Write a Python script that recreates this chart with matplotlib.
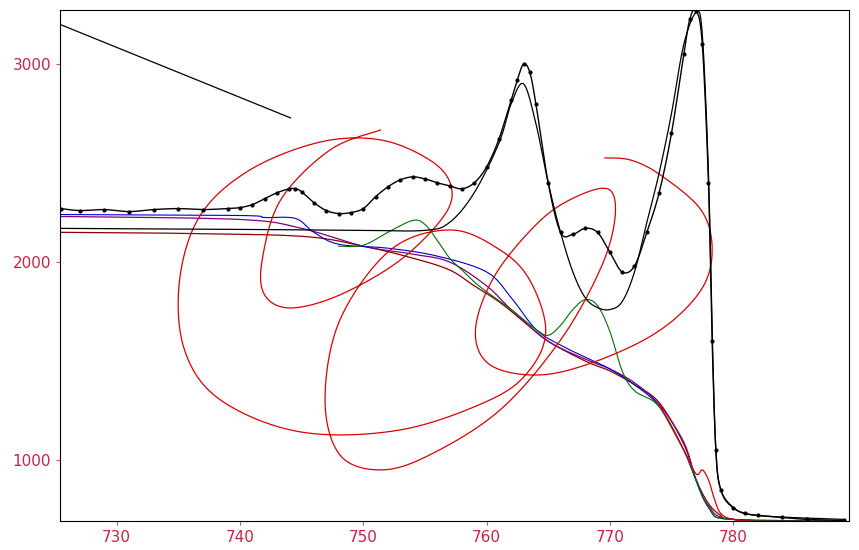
import matplotlib
matplotlib.use("Agg")
import matplotlib.pyplot as plt
import numpy as np

# measured spectrum
spec_x = [725.5,727,729,731,733,735,737,739,740,741,742,743,744,744.5,745,746,747,748,749,750,751,752,753,754,755,756,757,758,759,760,761,762,762.5,763,763.5,764,765,766,767,768,769,770,771,772,773,774,775,776,776.5,777,777.5,778,778.3,778.6,779,780,781,782,784,786,789]
spec_y = [2270,2260,2265,2255,2265,2270,2265,2270,2275,2290,2320,2350,2370,2370,2355,2300,2260,2245,2250,2270,2330,2380,2415,2430,2420,2400,2385,2370,2400,2480,2620,2820,2920,3000,2960,2800,2400,2150,2140,2170,2150,2050,1950,1980,2150,2350,2650,3050,3230,3270,3100,2400,1600,1050,850,760,730,720,710,700,695]

# fit envelope
env_x = [725.5,740,750,755,757,759,761,762,763,764,765,766,767,768,769,770,771,772,773,774,775,776,777,777.5,778,778.3,778.6,779,780,782,789]
env_y = [2170,2165,2160,2160,2200,2350,2600,2800,2900,2700,2400,2150,1950,1820,1770,1760,1800,1950,2200,2450,2750,3100,3260,3150,2450,1650,1050,850,760,720,700]

blue_x = [725.5,740,742,744.5,746,748,752,756,760,762,764,766,768,770,772,774,776,778,780,789]
blue_y = [2240,2235,2225,2220,2150,2090,2070,2030,1950,1820,1660,1580,1520,1460,1380,1270,1050,760,700,690]

green_x = [748,750,752,754,755,756,757,758,759,760,762,764,765,766,767,768,769,770,771,772,774,776,778,780,789]
green_y = [2080,2085,2150,2210,2190,2110,2020,1960,1900,1850,1760,1660,1630,1680,1760,1810,1780,1650,1450,1350,1270,1050,760,700,690]

purple_x = [725.5,740,745,750,754,757,760,762,765,768,770,772,774,776,777,778,780,789]
purple_y = [2230,2215,2170,2080,2040,2000,1880,1760,1600,1510,1460,1390,1280,1090,900,770,700,690]

brown_x = [725.5,735,745,750,754,757,759,761,763,765,768,770,772,774,776,777,778,779,780,789]
brown_y = [2150,2145,2130,2080,2020,1960,1880,1800,1700,1600,1500,1450,1380,1290,1080,900,780,720,700,690]

red_x = [751.4,747.3,743.3,741.8,742.0,744.1,748.1,753.0,756.6,757.1,755.4,751.4,746.5,740.8,736.8,735.1,735.5,738.4,744.9,753.0,760.3,763.5,764.8,763.5,761.1,757.1,752.2,748.1,746.9,748.1,751.4,755.4,761.1,766.0,769.2,770.4,770.0,767.6,764.4,760.7,759.1,760.3,764.4,769.2,774.1,777.4,778.3,777.4,774.1,771.7,769.6]
red_y = [2667,2566,2314,2010,1834,1768,1834,2010,2238,2389,2515,2617,2606,2465,2238,1909,1556,1304,1142,1152,1304,1455,1657,1909,2061,2162,2061,1707,1304,1026,950,1026,1253,1606,1960,2212,2364,2339,2212,1935,1657,1480,1430,1506,1657,1859,2061,2263,2440,2515,2526]

red2_x = [774,776,777,777.5,778,778.5,779,780,782,789]
red2_y = [1280,1050,930,950,900,800,730,700,690,690]

diag_x = [720.5,744.1]
diag_y = [3324,2728]


def smooth(xs, ys, n=12):
    # Catmull-Rom rendering of a polyline, for drawing only
    P = np.column_stack([xs, ys]).astype(float)
    P = np.vstack([P[0], P, P[-1]])
    out = []
    t = np.linspace(0, 1, n, endpoint=False)[:, None]
    for i in range(1, len(P) - 2):
        p0, p1, p2, p3 = P[i-1], P[i], P[i+1], P[i+2]
        seg = 0.5 * ((2*p1) + (-p0+p2)*t + (2*p0-5*p1+4*p2-p3)*t**2 + (-p0+3*p1-3*p2+p3)*t**3)
        out.append(seg)
    out.append(P[-2][None])
    a = np.vstack(out)
    return a[:, 0], a[:, 1]


fig = plt.figure(figsize=(8.59,5.5),dpi=100)
ax = fig.add_axes([60/859, 29/550, 789/859, 511/550])
ax.plot(diag_x, diag_y, color='black', lw=0.9)
ax.plot(*smooth(brown_x, brown_y), color='#8b0000', lw=0.9)
ax.plot(*smooth(purple_x, purple_y), color='#800080', lw=0.9)
ax.plot(*smooth(blue_x, blue_y), color='#0000cc', lw=0.8)
ax.plot(*smooth(green_x, green_y), color='#007000', lw=0.8)
ax.plot(*smooth(red_x, red_y), color='#dd0000', lw=0.9)
ax.plot(*smooth(red2_x, red2_y), color='#dd0000', lw=0.9)
ax.plot(*smooth(env_x, env_y), color='black', lw=0.9)
ax.plot(*smooth(spec_x, spec_y), color='black', lw=1.0)
ax.plot(spec_x, spec_y, color='black', marker='o', ms=2, ls='none')
ax.set_xlim(725.4, 789.4)
ax.set_ylim(692, 3273)
ax.set_xticks([730,740,750,760,770,780])
ax.set_yticks([1000,2000,3000])
ax.tick_params(colors='#cc2244', labelsize=11, length=3, width=0.6)
for s in ax.spines.values():
    s.set_linewidth(0.8)
fig.savefig("out.png", dpi=100)
